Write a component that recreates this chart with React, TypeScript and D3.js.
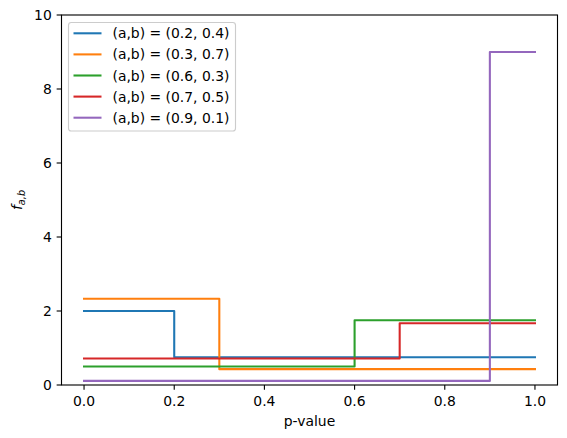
import React, { useEffect, useRef } from "react";
import * as d3 from "d3";

const labels = ["(a,b) = (0.2, 0.4)", "(a,b) = (0.3, 0.7)", "(a,b) = (0.6, 0.3)", "(a,b) = (0.7, 0.5)", "(a,b) = (0.9, 0.1)"];
const jumpAt = [0.2, 0.3, 0.6, 0.7, 0.9];
const leftValues = [2.0, 2.333, 0.5, 0.714, 0.111];
const rightValues = [0.75, 0.429, 1.75, 1.667, 9.0];
const colors = ["#1f77b4", "#ff7f0e", "#2ca02c", "#d62728", "#9467bd"];
const xTicks = [0, 0.2, 0.4, 0.6, 0.8, 1.0];
const yTicks = [0, 2, 4, 6, 8, 10];

const W = 567, H = 438;
const L = 61.5, R = 557.5, T = 15, B = 385;
const FONT = "DejaVu Sans, sans-serif";

export default function App() {
  const ref = useRef<SVGSVGElement>(null);
  useEffect(() => {
    const svg = d3.select(ref.current);
    svg.selectAll("*").remove();
    const x = d3.scaleLinear().domain([-0.05, 1.05]).range([L, R]);
    const y = d3.scaleLinear().domain([0, 10]).range([B, T]);

    svg.append("rect").attr("width", W).attr("height", H).attr("fill", "white");

    const line = d3.line<[number, number]>().x(d => x(d[0])).y(d => y(d[1]));
    const clipG = svg.append("g");
    labels.forEach((_, i) => {
      const pts: [number, number][] = [
        [0, leftValues[i]], [jumpAt[i], leftValues[i]], [jumpAt[i], rightValues[i]], [1, rightValues[i]],
      ];
      clipG.append("path").attr("d", line(pts)).attr("fill", "none")
        .attr("stroke", colors[i]).attr("stroke-width", 2.08).attr("stroke-linejoin", "round").attr("stroke-linecap", "square");
    });

    // spines
    svg.append("rect").attr("x", L).attr("y", T).attr("width", R - L).attr("height", B - T)
      .attr("fill", "none").attr("stroke", "black").attr("stroke-width", 1.11);

    const tl = 4.86;
    xTicks.forEach(t => {
      svg.append("line").attr("x1", x(t)).attr("x2", x(t)).attr("y1", B).attr("y2", B + tl)
        .attr("stroke", "black").attr("stroke-width", 1.11);
      svg.append("text").attr("x", x(t)).attr("y", B + tl + 4.86 + 10.8).attr("text-anchor", "middle")
        .attr("font-family", FONT).attr("font-size", 13.9).attr("fill", "black").text(d3.format(".1f")(t));
    });
    yTicks.forEach(t => {
      svg.append("line").attr("x1", L - tl).attr("x2", L).attr("y1", y(t)).attr("y2", y(t))
        .attr("stroke", "black").attr("stroke-width", 1.11);
      svg.append("text").attr("x", L - tl - 4.86).attr("y", y(t) + 5).attr("text-anchor", "end")
        .attr("font-family", FONT).attr("font-size", 13.9).attr("fill", "black").text(String(t));
    });

    svg.append("text").attr("x", (L + R) / 2).attr("y", 426).attr("text-anchor", "middle")
      .attr("font-family", FONT).attr("font-size", 13.9).attr("fill", "black").text("p-value");

    const yl = svg.append("text").attr("transform", `translate(22, ${(T + B) / 2}) rotate(-90)`)
      .attr("text-anchor", "middle").attr("font-family", FONT).attr("font-size", 13.9).attr("fill", "black");
    yl.append("tspan").attr("font-style", "italic").text("f");
    yl.append("tspan").attr("font-style", "italic").attr("font-size", 9.7).attr("dy", 3).text("a,b");

    // legend
    const lg = svg.append("g");
    lg.append("rect").attr("x", 68.5).attr("y", 22.5).attr("width", 167).attr("height", 108.5)
      .attr("rx", 2.8).attr("fill", "white").attr("fill-opacity", 0.8).attr("stroke", "#cccccc").attr("stroke-width", 1.11);
    labels.forEach((lab, i) => {
      const cy = 33.3 + i * 21.1;
      lg.append("line").attr("x1", 73.5).attr("x2", 101.5).attr("y1", cy).attr("y2", cy)
        .attr("stroke", colors[i]).attr("stroke-width", 2.08);
      lg.append("text").attr("x", 112.5).attr("y", cy + 5).attr("font-family", FONT).attr("font-size", 13.9)
        .attr("fill", "black").text(lab);
    });
  }, []);
  return (
    <svg ref={ref} width={W} height={H} style={{ position: "absolute", left: 0, top: 0, display: "block" }} />
  );
}
